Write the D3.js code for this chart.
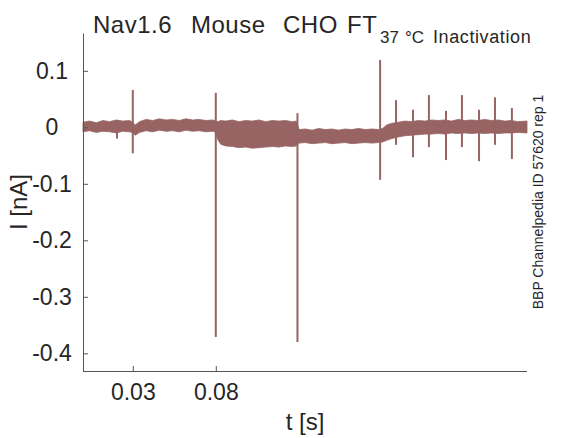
<!DOCTYPE html>
<html lang="en">
<head>
    <meta charset="UTF-8">
    <title>Nav1.6 Inactivation</title>
    <style>
        body { margin: 0; background: #fff; }
        text { font-family: "Liberation Sans", Arial, sans-serif; fill: #262626; }
    </style>
</head>
<body>
<script src="https://d3js.org/d3.v7.min.js"></script>
<script>
    // band of the overlaid sweeps: time [s], upper and lower edge [nA]
    const bandT = [0, 0.004, 0.008, 0.012, 0.016, 0.020, 0.024, 0.028, 0.0295,
        0.0315, 0.034, 0.038, 0.042, 0.046, 0.050, 0.054, 0.058, 0.062, 0.066,
        0.070, 0.074, 0.078, 0.0795,
        0.0812, 0.083, 0.086, 0.090, 0.094, 0.098, 0.102, 0.106, 0.110, 0.114,
        0.118, 0.122, 0.126, 0.1285,
        0.1302, 0.134, 0.138, 0.142, 0.146, 0.150, 0.154, 0.158, 0.162, 0.166,
        0.170, 0.174, 0.178,
        0.1805, 0.183, 0.186, 0.190, 0.194, 0.198, 0.202, 0.206, 0.210, 0.214,
        0.218, 0.222, 0.226, 0.230, 0.234, 0.238, 0.242, 0.246, 0.250, 0.254,
        0.258, 0.262, 0.2675];
    const bandHi = [0.009, 0.011, 0.008, 0.012, 0.010, 0.013, 0.011, 0.012, 0.010,
        0.004, 0.010, 0.014, 0.012, 0.015, 0.013, 0.014, 0.012, 0.015, 0.013,
        0.014, 0.012, 0.013, 0.012,
        0.010, 0.012, 0.011, 0.013, 0.010, 0.012, 0.011, 0.013, 0.010, 0.012,
        0.011, 0.012, 0.010, 0.011,
        -0.004, -0.003, -0.005, -0.002, -0.004, -0.003, -0.005, -0.003, -0.004, -0.002,
        -0.004, -0.003, -0.004,
        -0.002, 0.004, 0.007, 0.009, 0.011, 0.010, 0.012, 0.011, 0.013, 0.012,
        0.013, 0.011, 0.014, 0.012, 0.013, 0.012, 0.014, 0.012, 0.013, 0.011,
        0.012, 0.010, 0.011];
    const bandLo = [-0.008, -0.006, -0.009, -0.007, -0.008, -0.010, -0.007, -0.008, -0.009,
        -0.014, -0.009, -0.006, -0.008, -0.005, -0.007, -0.006, -0.008, -0.005, -0.007,
        -0.006, -0.008, -0.007, -0.008,
        -0.022, -0.030, -0.033, -0.034, -0.036, -0.035, -0.037, -0.036, -0.035, -0.034,
        -0.035, -0.033, -0.034, -0.033,
        -0.028, -0.027, -0.029, -0.028, -0.027, -0.029, -0.028, -0.027, -0.029, -0.028,
        -0.027, -0.028, -0.027,
        -0.026, -0.023, -0.020, -0.017, -0.015, -0.014, -0.013, -0.012, -0.012, -0.011,
        -0.012, -0.010, -0.011, -0.010, -0.011, -0.010, -0.011, -0.010, -0.011, -0.010,
        -0.010, -0.009, -0.010];

    // transient spikes: time [s], peak and trough [nA]
    const spikeT = [0.0205, 0.030, 0.080, 0.1292, 0.179, 0.1886, 0.1988, 0.2084,
        0.2187, 0.2283, 0.2386, 0.2482, 0.2584];
    const spikeHi = [0.012, 0.066, 0.061, 0.025, 0.119, 0.048, 0.031, 0.057,
        0.029, 0.057, 0.031, 0.053, 0.034];
    const spikeLo = [-0.020, -0.046, -0.371, -0.380, -0.093, -0.031, -0.053, -0.035,
        -0.058, -0.035, -0.060, -0.031, -0.056];

    const xTicks = [0.03, 0.08];
    const yTicks = [0.1, 0, -0.1, -0.2, -0.3, -0.4];

    const width = 583, height = 438;
    const color = "#976363";

    const svg = d3.select("body").append("svg")
        .attr("width", width)
        .attr("height", height);

    const x = d3.scaleLinear().domain([0, 0.2675]).range([83, 527]);
    const y = d3.scaleLinear().domain([-0.4313, 0.1669]).range([371, 33]);

    // band
    const band = bandT.map((t, i) => ({t: t, hi: bandHi[i], lo: bandLo[i]}));
    svg.append("path")
        .datum(band)
        .attr("d", d3.area()
            .x(d => x(d.t))
            .y0(d => y(d.lo))
            .y1(d => y(d.hi)))
        .attr("fill", color)
        .attr("stroke", color)
        .attr("stroke-width", 0.8);

    // spikes
    const spikes = spikeT.map((t, i) => ({t: t, hi: spikeHi[i], lo: spikeLo[i]}));
    svg.selectAll(".spike")
        .data(spikes)
        .enter().append("line")
        .attr("class", "spike")
        .attr("x1", d => x(d.t))
        .attr("x2", d => x(d.t))
        .attr("y1", d => y(d.hi))
        .attr("y2", d => y(d.lo))
        .attr("stroke", color)
        .attr("stroke-width", 2);

    // axes, ticks pointing inwards
    const xAxis = svg.append("g")
        .attr("transform", `translate(0,${y.range()[0]})`)
        .call(d3.axisBottom(x).tickValues(xTicks).tickSizeInner(-5).tickSizeOuter(0)
            .tickFormat(d3.format(".2f")));
    xAxis.selectAll("text")
        .attr("y", 13)
        .style("font-size", "23px")
        .style("font-family", "Liberation Sans, Arial, sans-serif")
        .style("fill", "#262626");

    const yAxis = svg.append("g")
        .attr("transform", `translate(${x.range()[0]},0)`)
        .call(d3.axisLeft(y).tickValues(yTicks).tickSizeInner(-5).tickSizeOuter(0)
            .tickFormat(d => d === 0 ? "0" : d3.format(".1f")(d).replace("−", "-")));
    yAxis.selectAll("text")
        .attr("x", -31)
        .attr("text-anchor", "middle")
        .style("font-size", "23px")
        .style("font-family", "Liberation Sans, Arial, sans-serif")
        .style("fill", "#262626");

    svg.selectAll(".domain, .tick line").attr("stroke", "#555");
    xAxis.select(".domain").attr("d", `M${x.range()[0]},0.5H${x.range()[1]}`);

    // axis labels
    svg.append("text")
        .attr("x", (x.range()[0] + x.range()[1]) / 2)
        .attr("y", 430)
        .attr("text-anchor", "middle")
        .attr("font-size", 24)
        .text("t [s]");

    svg.append("text")
        .attr("transform", `translate(27,${(y.range()[0] + y.range()[1]) / 2}) rotate(-90)`)
        .attr("text-anchor", "middle")
        .attr("font-size", 24)
        .text("I [nA]");

    // title
    const title = svg.append("text")
        .attr("y", 33)
        .attr("font-size", 24)
        .attr("letter-spacing", 0.5);
    title.append("tspan").attr("x", 93).text("Nav1.6");
    title.append("tspan").attr("x", 191).text("Mouse");
    title.append("tspan").attr("x", 283).text("CHO");
    title.append("tspan").attr("x", 347).text("FT");
    title.append("tspan").attr("x", 380).attr("dy", 10)
        .attr("font-size", 17).attr("letter-spacing", 0).text("37");
    title.append("tspan").attr("x", 405)
        .attr("font-size", 17).attr("letter-spacing", 0).text("°C");
    title.append("tspan").attr("x", 433)
        .attr("font-size", 18).attr("letter-spacing", 0.6).text("Inactivation");

    // side note
    svg.append("text")
        .attr("transform", `translate(543,${(y.range()[0] + y.range()[1]) / 2}) rotate(-90)`)
        .attr("text-anchor", "middle")
        .attr("font-size", 14)
        .text("BBP Channelpedia ID 57620 rep 1");
</script>
</body>
</html>
